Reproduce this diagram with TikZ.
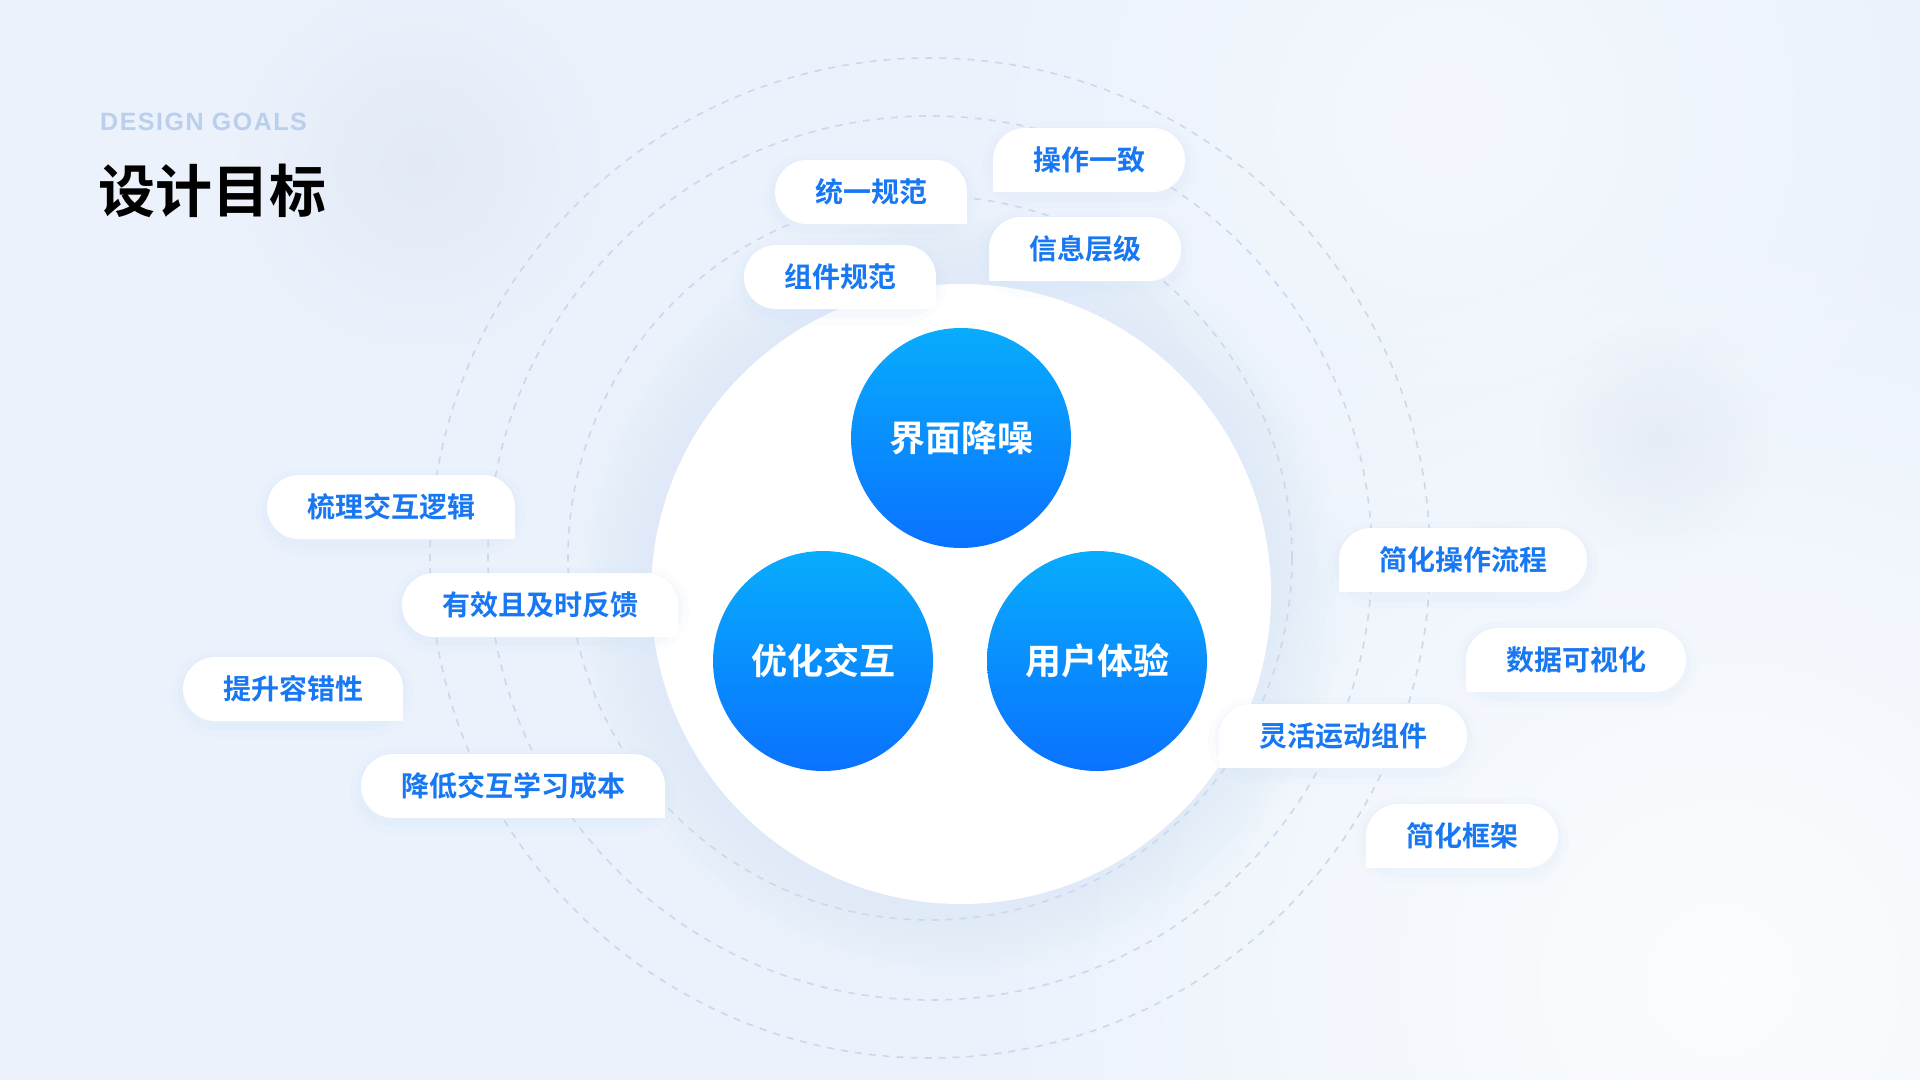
\documentclass[tikz,border=0pt]{standalone}
\usepackage{fontspec}
\setmainfont{Noto Sans}
\newfontfamily\cjk{Noto Sans CJK SC}[BoldFont={Noto Sans CJK SC Bold}]
\newfontfamily\kickerfont{Liberation Sans}[LetterSpace=6]
\usetikzlibrary{positioning, fadings}

\definecolor{bgblue}{HTML}{EBF2FC}
\definecolor{tagblue}{HTML}{1877F2}
\definecolor{ballTop}{HTML}{08ACFD}
\definecolor{ballBot}{HTML}{0A72FE}
\definecolor{ringgrey}{HTML}{CCD8EB}
\definecolor{haloblue}{HTML}{CFE0F8}
\definecolor{kickergrey}{HTML}{BACFEB}
\definecolor{stipple}{HTML}{D3DCEA}

\tikzfading[name=softedge, inner color=transparent!0, outer color=transparent!100]

\begin{document}
\begin{tikzpicture}[x=1pt, y=-1pt]
    \tikzset{
      goal/.style={
        fill=white, rounded corners=32pt,
        minimum height=64pt, inner xsep=40pt, inner ysep=0pt,
        text=tagblue, font=\cjk\bfseries\fontsize{28}{34}\selectfont,
        preaction={draw=haloblue, line width=22pt, opacity=.08, transform canvas={yshift=-5pt}},
        preaction={draw=haloblue, line width=10pt, opacity=.12, transform canvas={yshift=-4pt}}
      },
      ball/.style={
        circle, minimum size=220pt, inner sep=0pt,
        top color=ballTop, bottom color=ballBot,
        text=white, font=\cjk\bfseries\fontsize{36}{40}\selectfont
      },
      hub/.style={circle, fill=white, minimum size=620pt, inner sep=0pt},
      ring/.style={draw=ringgrey, line width=1.6pt, dash pattern=on 7pt off 7pt}
    }
    % tags with one square corner
    \newcommand\cutSE[1]{\fill[white] (#1.south east) rectangle ([xshift=-32pt]#1.east);}
    \newcommand\cutSW[1]{\fill[white] (#1.south west) rectangle ([xshift=32pt]#1.west);}

    % Background
    \useasboundingbox (0,0) rectangle (1920,1080);
    \clip (0,0) rectangle (1920,1080);
    \fill[bgblue] (0,0) rectangle (1920,1080);
    \fill[white, opacity=.85, path fading=softedge] (1720,980) circle (760);
    \fill[white, opacity=.45, path fading=softedge] (1450,120) circle (520);
    \fill[stipple, opacity=.35, path fading=softedge] (420,165) circle (185);
    \fill[stipple, opacity=.35, path fading=softedge] (1659,439) circle (120);

    % Dashed rings
    \coordinate (c0) at (930,558);
    \draw[ring] (c0) circle (362);
    \draw[ring] (c0) circle (442);
    \draw[ring] (c0) circle (500);

    % Centre
    \coordinate (c1) at (961,594);
    \foreach \r in {0,8,...,72}
      \fill[haloblue, opacity=.045] (c1) circle (310+\r);
    \node[hub] (core) at (c1) {};

    \node[ball] (noise) at (961,438) {界面降噪};
    \node[ball] (inter) at (823,661) {优化交互};
    \node[ball] (ux) at (1097,661) {用户体验};

    % Top
    \node[goal] (unify) at (871,192) {统一规范}; \cutSE{unify}
    \node[goal] (comp) at (840,277) {组件规范}; \cutSE{comp}
    \node[goal] (consist) at (1089,160) {操作一致}; \cutSW{consist}
    \node[goal] (layer) at (1085,249) {信息层级}; \cutSW{layer}

    % Left
    \node[goal] (logic) at (391,507) {梳理交互逻辑}; \cutSE{logic}
    \node[goal] (feedback) at (540,605) {有效且及时反馈}; \cutSE{feedback}
    \node[goal] (tolerance) at (293,689) {提升容错性}; \cutSE{tolerance}
    \node[goal] (learning) at (513,786) {降低交互学习成本}; \cutSE{learning}

    % Right
    \node[goal] (flow) at (1463,560) {简化操作流程}; \cutSW{flow}
    \node[goal] (dataviz) at (1576,660) {数据可视化}; \cutSW{dataviz}
    \node[goal] (motion) at (1343,736) {灵活运动组件}; \cutSW{motion}
    \node[goal] (frame) at (1462,836) {简化框架}; \cutSW{frame}

    % Heading
    \node[anchor=west, inner sep=0pt, text=kickergrey, font=\kickerfont\bfseries\fontsize{25}{30}\selectfont] (kicker) at (100,122) {DESIGN GOALS};
    \node[anchor=west, inner sep=0pt, font=\cjk\bfseries\fontsize{57}{62}\selectfont] (title) at (98,191) {设计目标};
  \end{tikzpicture}
\end{document}
